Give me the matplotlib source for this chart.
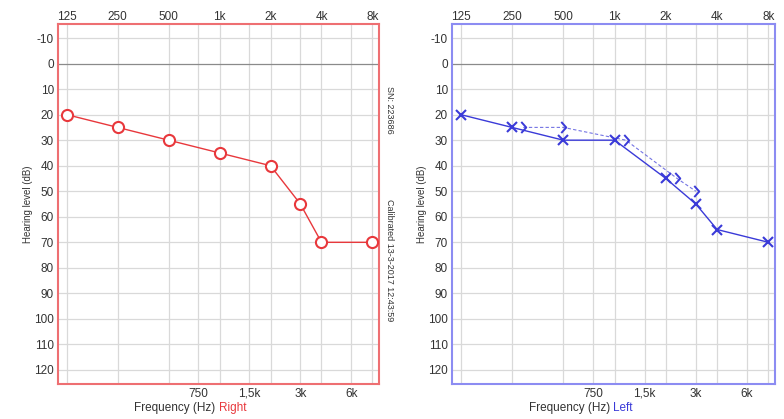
import matplotlib.pyplot as plt
from matplotlib.path import Path
import numpy as np

# frequency ticks
top_freqs = [125, 250, 500, 1000, 2000, 4000, 8000]
top_labels = ['125', '250', '500', '1k', '2k', '4k', '8k']
bottom_freqs = [750, 1500, 3000, 6000]
bottom_labels = ['750', '1,5k', '3k', '6k']
db_levels = list(range(-10, 121, 10))

# right ear (air conduction, O)
right_freqs = [125, 250, 500, 1000, 2000, 3000, 4000, 8000]
right_air = [20, 25, 30, 35, 40, 55, 70, 70]

# left ear (air conduction, X)
left_freqs = [125, 250, 500, 1000, 2000, 3000, 4000, 8000]
left_air = [20, 25, 30, 30, 45, 55, 65, 70]

# left ear bone conduction (>)
left_bone_freqs = [250, 500, 1000, 2000, 3000]
left_bone = [25, 25, 30, 45, 50]

serial_text = 'SN: 223686'
calib_text = 'Calibrated 13-3-2017 12:43:59'

RED = '#e8383c'
RED_FRAME = '#ee6f72'
BLUE = '#3a3ad8'
BLUE_FRAME = '#8c8cf2'
GRID = '#d9d9d9'
TXT = '#333333'

tick_font = ['Liberation Sans Narrow', 'Liberation Sans', 'DejaVu Sans']
plt.rcParams['font.family'] = ['Liberation Sans', 'DejaVu Sans']

fig = plt.figure(figsize=(7.84, 4.19), dpi=100)
ax_r = fig.add_axes([58 / 784, 35 / 419, 321 / 784, 360 / 419])
ax_l = fig.add_axes([452 / 784, 35 / 419, 323 / 784, 360 / 419])


def setup(ax, frame_color, side_label, side_color):
    ax.set_xscale('log', base=2)
    ax.set_xlim(111, 8750)
    ax.set_ylim(125.5, -15.5)
    for f in top_freqs + bottom_freqs:
        ax.axvline(f, color=GRID, lw=0.9, zorder=0)
    for d in db_levels:
        ax.axhline(d, color='#8a8a8a' if d == 0 else GRID, lw=0.9, zorder=0)
    ax.set_yticks(db_levels)
    ax.set_yticklabels([str(d) for d in db_levels], family=tick_font, fontsize=8.5, color=TXT)
    ax.set_xticks(bottom_freqs)
    ax.set_xticklabels(bottom_labels, family=tick_font, fontsize=8.5, color=TXT,
                       va='baseline')
    ax.xaxis.set_minor_locator(plt.NullLocator())
    ax.tick_params(axis='y', length=0, pad=3)
    ax.tick_params(axis='x', length=0, pad=9)
    top = ax.secondary_xaxis('top')
    top.set_xticks(top_freqs)
    top.set_xticklabels(top_labels, family=tick_font, fontsize=8.5, color=TXT)
    top.xaxis.set_minor_locator(plt.NullLocator())
    top.tick_params(length=0, pad=1)
    top.spines['top'].set_visible(False)
    for sp in ax.spines.values():
        sp.set_color(frame_color)
        sp.set_linewidth(1.5)
    ax.set_ylabel('Hearing level (dB)', fontsize=7, color=TXT, labelpad=1)
    ax.text(0.5, -0.068, 'Frequency (Hz) ', transform=ax.transAxes, ha='right',
            va='center', fontsize=8.5, color=TXT)
    ax.text(0.5, -0.068, side_label, transform=ax.transAxes, ha='left',
            va='center', fontsize=8.5, color=side_color)


setup(ax_r, RED_FRAME, 'Right', RED)
setup(ax_l, BLUE_FRAME, 'Left', BLUE)

# right ear
ax_r.plot(right_freqs, right_air, color=RED, lw=1, marker='o', ms=8,
          mfc='white', mec=RED, mew=1.5, zorder=3)

ax_r.text(1.034, 0.761, serial_text, transform=ax_r.transAxes, rotation=270,
          ha='center', va='center', fontsize=6.5, color=TXT)
ax_r.text(1.034, 0.344, calib_text, transform=ax_r.transAxes, rotation=270,
          ha='center', va='center', fontsize=6.5, color=TXT)

# left ear
ax_l.plot(left_freqs, left_air, color=BLUE, lw=1, marker='x', ms=7,
          mec=BLUE, mew=1.5, zorder=3)

air_lookup = dict(zip(left_freqs, left_air))
bone_x = [f * 2 ** 0.22 if air_lookup.get(f) == b else f
          for f, b in zip(left_bone_freqs, left_bone)]
bracket = Path([(-0.4, 1.0), (0.5, 0.0), (-0.4, -1.0)],
               [Path.MOVETO, Path.LINETO, Path.LINETO])
ax_l.plot(bone_x, left_bone, color=BLUE, lw=0.8, ls=(0, (3, 2)), alpha=0.7,
          zorder=2)
ax_l.plot(bone_x, left_bone, ls='none', marker=bracket, ms=8, mfc='none',
          mec=BLUE, mew=1.4, zorder=3)

fig.savefig('out.png', dpi=100)
